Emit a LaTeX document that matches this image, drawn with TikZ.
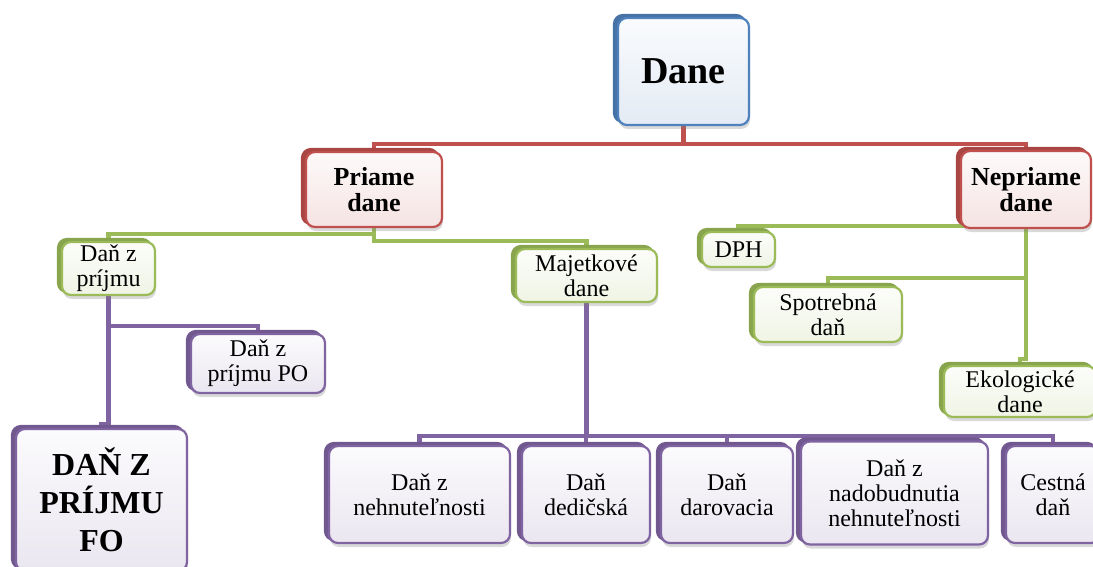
\documentclass[tikz,border=0pt]{standalone}
\usepackage{fontspec}
\setmainfont{Liberation Serif}
\usepackage{xcolor}
\usetikzlibrary{shadows,backgrounds}
\definecolor{modra}{RGB}{79,129,189}
\definecolor{cervena}{RGB}{192,80,77}
\definecolor{zelena}{RGB}{155,187,89}
\definecolor{fialova}{RGB}{128,100,162}

\begin{document}
\begin{tikzpicture}[x=1pt,y=-1pt,
krabica/.style={draw=#1,line width=2.2pt,rounded corners=9pt,top color=#1!3,bottom color=#1!16,
  align=center,inner sep=2pt,font=\fontsize{24}{25}\selectfont,
  drop shadow={opacity=.3,shadow xshift=1pt,shadow yshift=-4pt},
  general shadow={fill=#1!88!black,draw=#1!88!black,line width=2.2pt,shadow xshift=-4pt,shadow yshift=3pt}},
hlavny/.style={font=\bfseries\fontsize{26}{26}\selectfont},
spoj/.style={line width=4.5pt}
]
\useasboundingbox (0,0) rectangle (1093,567);

\node[krabica=modra,minimum width=131pt,minimum height=107pt,font=\bfseries\fontsize{38}{40}\selectfont] (dane) at (683.5,71.5) {Dane};

\node[krabica=cervena,hlavny,minimum width=136pt,minimum height=75pt] (priame) at (374,189.5) {Priame\\dane};
\node[krabica=cervena,hlavny,minimum width=130pt,minimum height=77pt] (nepriame) at (1026,189.5) {Nepriame\\dane};

\node[krabica=zelena,minimum width=93pt,minimum height=53pt] (prijem) at (108.5,268.5) {Daň z\\príjmu};
\node[krabica=zelena,minimum width=141pt,minimum height=53pt] (majetok) at (586.5,275.5) {Majetkové\\dane};
\node[krabica=zelena,minimum width=73pt,minimum height=35pt] (dph) at (738.5,249.5) {DPH};
\node[krabica=zelena,minimum width=148pt,minimum height=55pt] (spotreba) at (828,314.5) {Spotrebná\\daň};
\node[krabica=zelena,minimum width=152pt,minimum height=51pt] (eko) at (1020,391.5) {Ekologické\\dane};

\node[krabica=fialova,minimum width=134pt,minimum height=59pt] (po) at (258,363.5) {Daň z\\príjmu PO};
\node[krabica=fialova,minimum width=171pt,minimum height=142pt,font=\bfseries\fontsize{32}{38}\selectfont] (fo) at (101.5,500) {DAŇ Z\\PRÍJMU\\FO};

% majetkove dane
\node[krabica=fialova,minimum width=181pt,minimum height=97pt] (nehn) at (419.5,494.5) {Daň z\\nehnuteľnosti};
\node[krabica=fialova,minimum width=128pt,minimum height=97pt] (dedic) at (586,494.5) {Daň\\dedičská};
\node[krabica=fialova,minimum width=132pt,minimum height=97pt] (darov) at (727,494.5) {Daň\\darovacia};
\node[krabica=fialova,minimum width=187pt,minimum height=103pt] (nadob) at (894.5,493) {Daň z\\nadobudnutia\\nehnuteľnosti};
\node[krabica=fialova,minimum width=94pt,minimum height=97pt] (cestna) at (1053,494.5) {Cestná\\daň};

\begin{scope}[on background layer]
\draw[spoj,draw=cervena] (dane.south) -- ++(0,18) -| (priame.north);
\draw[spoj,draw=cervena] (dane.south) -- ++(0,18) -| (nepriame.north);
\draw[spoj,draw=zelena] (priame.south) -- ++(0,6) -| (prijem.north);
\draw[spoj,draw=zelena] (priame.south) -- ++(0,13) -| (majetok.north);
\draw[spoj,draw=zelena] (nepriame.south) -- ++(0,-3) -| (dph.north);
\draw[spoj,draw=zelena] (nepriame.south) -- ++(0,49) -| (spotreba.north);
\draw[spoj,draw=zelena] (nepriame.south) -- ++(0,130) -| (eko.north);
\draw[spoj,draw=fialova] (prijem.south) -- ++(0,30) -| (po.north);
\draw[spoj,draw=fialova] (prijem.south) -- ++(0,128) -| (fo.north);
\foreach \k in {nehn,dedic,darov,nadob,cestna}
  \draw[spoj,draw=fialova] (majetok.south) -- ++(0,133) -| (\k.north);
\end{scope}
\end{tikzpicture}
\end{document}
